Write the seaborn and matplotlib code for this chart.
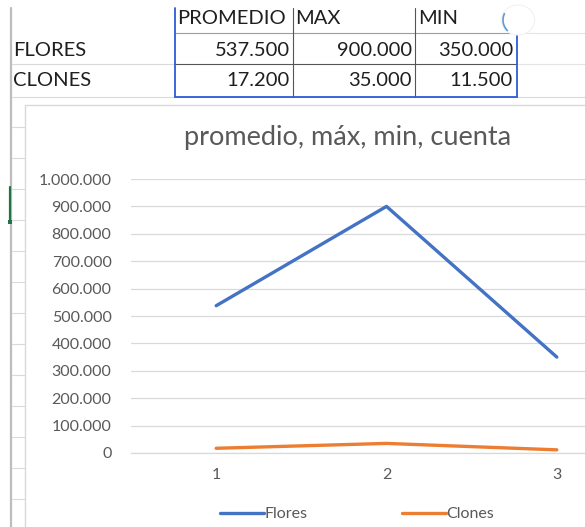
import matplotlib
matplotlib.use("Agg")
import matplotlib.pyplot as plt
import matplotlib.patches as mpatches
from matplotlib.lines import Line2D
import matplotlib.ticker as mticker
import pandas as pd
import seaborn as sns

sns.set_theme(style="white")
plt.rcParams["font.family"] = ["Lato", "DejaVu Sans"]

# ── Data ─────────────────────────────────────────────────────────────────────
headers = ["PROMEDIO", "MAX", "MIN"]
row_names = ["FLORES", "CLONES"]
flores = [537500, 900000, 350000]
clones = [17200, 35000, 11500]
categories = [1, 2, 3]
series_names = ["Flores", "Clones"]
title = "promedio, máx, min, cuenta"

BLUE = "#4472C4"
ORANGE = "#ED7D31"
GRID = "#D9D9D9"
TXT = "#595959"

W, H = 585, 527
def fx(x): return x / W
def fy(y): return 1 - y / H

def thousands(v, pos=None):
    return f"{v:,.0f}".replace(",", ".")

fig = plt.figure(figsize=(W / 100, H / 100), dpi=100)
fig.patch.set_facecolor("white")

def hline(y, x0, x1, color, lw=0.8, z=1):
    fig.add_artist(Line2D([fx(x0), fx(x1)], [fy(y), fy(y)], color=color, lw=lw, zorder=z))

def vline(x, y0, y1, color, lw=0.8, z=1):
    fig.add_artist(Line2D([fx(x), fx(x)], [fy(y0), fy(y1)], color=color, lw=lw, zorder=z))

# ── Spreadsheet grid ─────────────────────────────────────────────────────────
vline(11, 8, H, "#BDBDBD", lw=1.6)
hline(33, 175, 517, "#9E9E9E", lw=0.8)
hline(33, 517, W, "#E4E4E4", lw=0.8)
hline(64, 12, 175, "#DADADA", lw=0.8)
hline(64, 175, 517, "#555555", lw=0.8)
hline(64, 517, W, "#E4E4E4", lw=0.8)
hline(97, 12, W, "#DADADA", lw=0.8)
vline(293, 8, 97, "#555555", lw=0.8)
vline(415, 8, 97, "#555555", lw=0.8)
for k in range(1, 14):
    hline(97 + 31 * k - 1, 12, 25, "#DADADA", lw=0.8)

# selection border of the table
vline(175, 8, 97, "#2E5BD8", lw=1.3, z=3)
vline(517, 35, 97, "#2E5BD8", lw=1.3, z=3)
hline(97, 175, 517, "#2E5BD8", lw=1.3, z=3)

# handle circle
fig.add_artist(mpatches.Circle((fx(518), fy(20)), 15 / H, transform=fig.transFigure,
                               facecolor="white", edgecolor="#F2F2F2", lw=0.8, zorder=4))
fig.add_artist(mpatches.Arc((fx(518), fy(20)), 30 / W, 30 / H, theta1=150, theta2=230,
                            transform=fig.transFigure, color="#5B9BD5", lw=1.2, zorder=5))

# green selection mark
vline(10, 187, 220, "#217346", lw=1.6, z=3)
fig.add_artist(mpatches.Rectangle((fx(8), fy(224)), 4 / W, 4 / H, transform=fig.transFigure,
                                  facecolor="#217346", edgecolor="none", zorder=3))

# table text
tkw = dict(fontsize=14.5, color="#1F1F1F", va="center")
for x, h in zip([177, 295, 418], headers):
    fig.text(fx(x), fy(19), h, ha="left", **tkw)
for y, name, vals in zip([50, 81], row_names, [flores, clones]):
    fig.text(fx(13), fy(y), name, ha="left", **tkw)
    for x, v in zip([290, 412, 513], vals):
        fig.text(fx(x), fy(y), thousands(v), ha="right", **tkw)

# ── Chart area ───────────────────────────────────────────────────────────────
fig.add_artist(mpatches.Rectangle((fx(25), -0.05), 1.0, fy(105) + 0.05,
                                  transform=fig.transFigure, facecolor="white",
                                  edgecolor=GRID, lw=1.0, zorder=2))

fig.text(fx(348), fy(138), title, ha="center", va="center",
         fontsize=19.5, color=TXT, zorder=6)

df = pd.DataFrame({
    "cat": categories * 2,
    "valor": flores + clones,
    "serie": [series_names[0]] * 3 + [series_names[1]] * 3,
})

ax = fig.add_axes([fx(131), fy(453), (642 - 131) / W, (453 - 179) / H], zorder=5)
ax.set_facecolor("none")
sns.lineplot(data=df, x="cat", y="valor", hue="serie",
             palette={"Flores": BLUE, "Clones": ORANGE},
             lw=2.4, ax=ax, legend=False)
ax.set_xlim(0.5, 3.5)
ax.set_ylim(0, 1000000)
ax.yaxis.set_major_locator(mticker.MultipleLocator(100000))
ax.yaxis.set_major_formatter(mticker.FuncFormatter(thousands))
ax.set_xticks(categories)
ax.grid(axis="y", color=GRID, lw=0.9)
ax.set_axisbelow(True)
for s in ["top", "right", "left"]:
    ax.spines[s].set_visible(False)
ax.spines["bottom"].set_color(GRID)
ax.spines["bottom"].set_linewidth(0.9)
ax.tick_params(axis="y", length=0, pad=14, labelsize=11.5, labelcolor=TXT)
ax.tick_params(axis="x", length=0, pad=11, labelsize=11.5, labelcolor=TXT)
ax.set_xlabel("")
ax.set_ylabel("")

handles = [Line2D([], [], color=BLUE, lw=2.4), Line2D([], [], color=ORANGE, lw=2.4)]
fig.legend(handles, series_names, loc="center", bbox_to_anchor=(fx(357), fy(514)),
           ncol=2, frameon=False, fontsize=11.5, handlelength=2.75, handletextpad=0.05,
           columnspacing=5.9, labelcolor=TXT)

fig.savefig("out.png", dpi=100)
